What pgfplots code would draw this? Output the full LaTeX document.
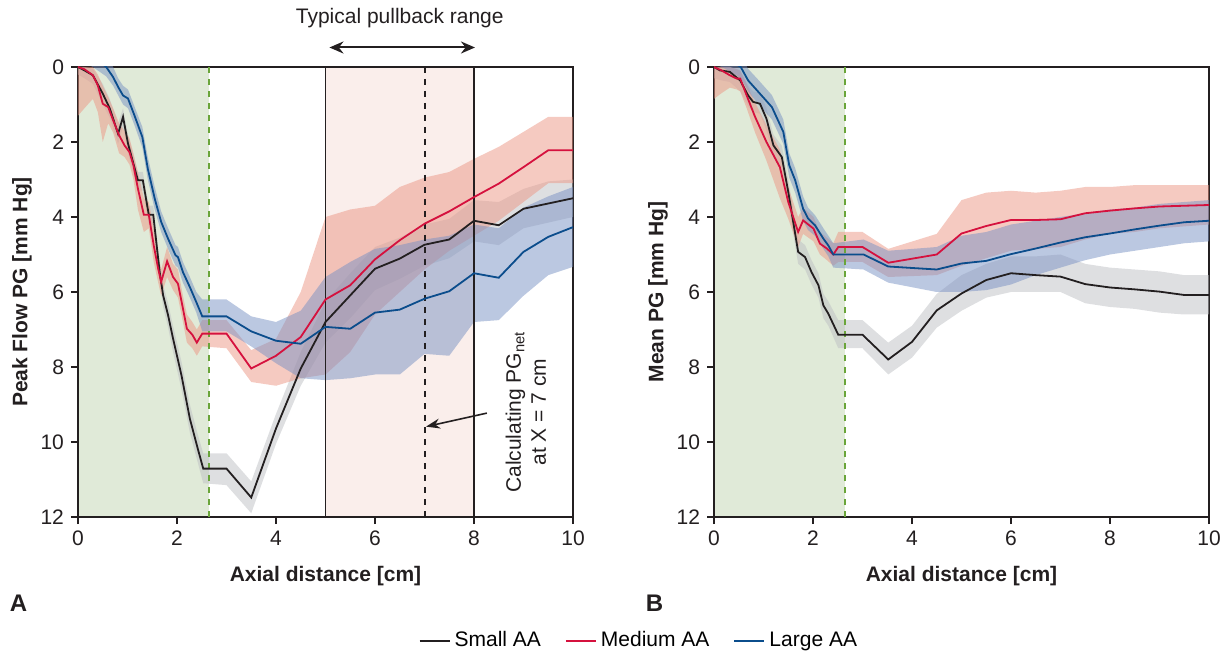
\documentclass[border=0pt]{standalone}
\usepackage{pgfplots}
\usepackage{pgfplotstable}
\usepackage{fontspec}
\setmainfont{Liberation Sans}
\pgfplotsset{compat=1.18}
\usepgfplotslibrary{fillbetween}
\usetikzlibrary{arrows.meta}

\definecolor{smallc}{RGB}{35,31,32}
\definecolor{medc}{RGB}{213,17,62}
\definecolor{largec}{RGB}{11,77,140}
\definecolor{bandgrey}{RGB}{190,192,196}
\definecolor{bandred}{RGB}{236,150,132}
\definecolor{bandblue}{RGB}{120,145,195}
\definecolor{greenreg}{RGB}{224,234,216}
\definecolor{greendash}{RGB}{106,165,58}
\definecolor{pinkreg}{RGB}{250,238,235}

% x  y  lo  hi  (lo/hi = edges of the shaded band)
\pgfplotstableread{
x y lo hi
0 0 0 0.2
0.13 0.09 0 0.3
0.3 0.22 0.05 0.45
0.5 0.71 0.45 1.0
0.64 1.1 0.85 1.35
0.81 1.78 1.5 2.05
0.91 1.33 1.1 1.6
1.01 2.04 1.8 2.3
1.11 2.53 2.3 2.8
1.21 3.02 2.8 3.3
1.31 3.02 2.8 3.3
1.43 3.94 3.7 4.2
1.52 3.94 3.7 4.2
1.65 5.47 5.2 5.75
1.72 6.09 5.8 6.4
1.82 6.62 6.3 6.95
1.92 7.24 6.9 7.6
2.09 8.22 7.85 8.6
2.26 9.38 9.0 9.75
2.42 10.18 9.8 10.55
2.53 10.71 10.3 11.1
3.0 10.71 10.3 11.15
3.5 11.48 11.05 11.9
4.0 9.64 9.25 10.05
4.5 8.04 7.6 8.5
5.0 6.8 6.25 7.35
5.5 6.09 5.5 6.7
6.0 5.38 4.8 5.95
6.5 5.11 4.55 5.65
7.0 4.74 4.2 5.3
7.5 4.6 4.05 5.1
8.0 4.1 3.55 4.65
8.5 4.22 3.6 4.75
9.0 3.78 3.25 4.3
9.5 3.64 3.05 4.15
10.0 3.5 3.0 4.0
}\lsmall

\pgfplotstableread{
x y lo hi
0 0 0 1.3
0.13 0.06 0 1.1
0.3 0.22 0 0.85
0.4 0.49 0.2 1.2
0.5 0.98 0.5 2.0
0.61 1.07 0.8 1.5
0.71 1.42 1.1 1.75
0.83 1.82 1.5 2.3
0.94 2.09 1.7 2.4
1.04 2.27 1.9 2.6
1.12 2.62 2.3 3.0
1.21 3.24 2.8 3.8
1.33 3.94 3.5 4.4
1.43 3.94 3.6 4.3
1.53 4.76 4.3 5.2
1.62 5.38 5.0 5.75
1.68 5.73 5.4 6.1
1.8 5.18 4.8 5.6
1.92 5.6 5.25 5.95
2.02 5.78 5.4 6.15
2.12 6.44 6.1 6.8
2.2 6.98 6.6 7.35
2.31 7.14 6.8 7.5
2.4 7.35 7.0 7.7
2.51 7.11 6.75 7.45
3.0 7.11 6.75 7.5
3.5 8.04 7.55 8.4
4.0 7.7 7.25 8.5
4.5 7.2 6.0 8.3
5.0 6.2 4.0 8.2
5.5 5.82 3.8 7.6
6.0 5.13 3.7 6.6
6.5 4.62 3.2 6.0
7.0 4.18 2.95 5.4
7.5 3.85 2.8 4.9
8.0 3.47 2.45 4.5
8.5 3.11 2.13 4.1
9.0 2.67 1.73 3.6
9.5 2.22 1.33 3.1
10.0 2.22 1.33 3.1
}\lmed

\pgfplotstableread{
x y lo hi
0 -0.5 -0.8 -0.2
0.3 -0.3 -0.6 0.0
0.57 0 -0.25 0.25
0.71 0.27 0 0.5
0.81 0.53 0.3 0.75
0.91 0.76 0.5 1.0
1.01 0.84 0.6 1.1
1.14 1.29 1.05 1.55
1.3 1.87 1.6 2.15
1.41 2.71 2.4 3.0
1.55 3.51 3.2 3.8
1.68 4.13 3.85 4.4
1.82 4.58 4.3 4.85
1.97 5.02 4.75 5.3
2.02 5.07 4.8 5.35
2.12 5.47 5.2 5.75
2.26 5.87 5.6 6.15
2.39 6.27 6.0 6.55
2.51 6.65 6.2 7.05
3.0 6.65 6.2 7.05
3.5 7.05 6.65 7.45
4.0 7.3 6.8 7.9
4.5 7.38 6.5 8.3
5.0 6.93 5.6 8.35
5.5 6.98 5.2 8.3
6.0 6.55 4.85 8.2
6.5 6.47 4.75 8.2
7.0 6.18 4.6 7.65
7.5 5.98 4.5 7.7
8.0 5.5 4.2 6.8
8.5 5.62 4.3 6.75
9.0 4.93 3.75 6.1
9.5 4.53 3.45 5.55
10.0 4.27 3.2 5.33
}\llarge

\pgfplotstableread{
x y lo hi
0 0 0 0.3
0.12 0.09 0 0.35
0.32 0.13 0 0.4
0.53 0.36 0.1 0.65
0.69 0.76 0.5 1.05
0.79 0.93 0.65 1.2
0.93 0.98 0.7 1.25
1.06 1.38 1.1 1.7
1.2 2.09 1.8 2.4
1.37 2.4 2.1 2.7
1.5 3.33 3.0 3.65
1.6 4.13 3.8 4.45
1.7 4.93 4.6 5.25
1.84 5.07 4.75 5.4
1.97 5.47 5.15 5.8
2.11 5.82 5.5 6.15
2.21 6.36 6.05 6.7
2.31 6.58 6.25 6.9
2.51 7.14 6.75 7.5
3.0 7.14 6.75 7.5
3.52 7.8 7.35 8.2
4.0 7.33 6.9 7.75
4.5 6.49 6.05 6.95
5.0 6.04 5.55 6.5
5.5 5.68 5.25 6.15
6.0 5.5 5.05 6.0
6.5 5.55 5.05 6.0
7.0 5.59 5.0 6.0
7.5 5.79 5.25 6.3
8.0 5.88 5.35 6.4
8.5 5.93 5.4 6.45
9.0 5.99 5.45 6.55
9.5 6.08 5.55 6.6
10.0 6.08 5.55 6.6
}\rsmall

\pgfplotstableread{
x y lo hi
0 0 0 0.85
0.15 0.09 0 0.7
0.32 0.22 0 0.55
0.46 0.31 0.05 0.6
0.53 0.31 0.1 0.65
0.66 0.76 0.45 1.1
0.83 1.33 0.95 1.75
1.06 2.0 1.55 2.5
1.33 2.67 2.2 3.5
1.5 3.6 3.2 4.05
1.7 4.4 4.0 4.8
1.8 4.09 3.75 4.45
2.01 4.31 4.0 4.65
2.14 4.71 4.4 5.0
2.28 4.84 4.55 5.15
2.41 5.0 4.7 5.3
2.51 4.8 4.4 5.2
3.0 4.8 4.4 5.2
3.52 5.22 4.85 5.6
4.5 5.0 4.45 5.55
5.0 4.44 3.55 5.3
5.5 4.24 3.35 5.1
6.0 4.08 3.3 4.9
6.5 4.08 3.35 4.85
7.0 4.06 3.3 4.8
7.5 3.9 3.2 4.6
8.0 3.83 3.2 4.45
8.5 3.77 3.15 4.4
9.0 3.72 3.15 4.3
9.5 3.7 3.15 4.25
10.0 3.68 3.15 4.2
}\rmed

\pgfplotstableread{
x y lo hi
0 -0.4 -0.7 -0.1
0.3 -0.2 -0.5 0.1
0.54 0 -0.3 0.3
0.69 0.36 0.05 0.65
0.9 0.67 0.35 1.0
1.17 1.07 0.75 1.4
1.4 1.73 1.4 2.05
1.52 2.62 2.3 2.95
1.64 3.02 2.7 3.35
1.8 3.78 3.45 4.1
1.9 4.04 3.75 4.35
2.04 4.22 3.95 4.5
2.21 4.58 4.3 4.85
2.31 4.76 4.5 5.05
2.41 5.0 4.7 5.35
3.02 5.0 4.6 5.4
3.52 5.32 4.9 5.75
4.5 5.4 4.8 6.0
5.0 5.24 4.5 6.0
5.5 5.17 4.4 5.95
6.0 4.99 4.2 5.8
6.5 4.84 4.1 5.55
7.0 4.68 4.0 5.35
7.5 4.54 3.9 5.15
8.0 4.44 3.8 5.0
8.5 4.33 3.75 4.9
9.0 4.23 3.65 4.8
9.5 4.14 3.6 4.7
10.0 4.1 3.55 4.65
}\rlarge

\pgfplotsset{
  pgaxis/.style={
    set layers,
    scale only axis,
    width=247.5pt, height=225pt,
    xmin=0, xmax=10, ymin=0, ymax=12,
    y dir=reverse,
    xtick={0,2,...,10}, ytick={0,2,...,12},
    tick align=outside, tick pos=left,
    major tick length=3.5pt,
    axis line style={line width=1.1pt, color=smallc},
    every tick/.style={line width=1.1pt, color=smallc},
    tick label style={font=\fontsize{10.5}{12}\selectfont, color=smallc},
    /pgf/number format/assume math mode=true,
    label style={font=\bfseries\fontsize{10.5}{12}\selectfont, color=smallc},
    xlabel={Axial distance [cm]},
    xlabel style={yshift=-3.5pt},
    ylabel style={yshift=-2.5pt},
    clip mode=individual,
  },
  band/.style={draw=none, forget plot},
  region/.style={draw=none, forget plot, on layer=axis background},
}

\newcommand{\bands}[3]{%
  \addplot[band, name path=#2L] table[x=x, y=lo]{#1};
  \addplot[band, name path=#2H] table[x=x, y=hi]{#1};
  \addplot[fill=#3, fill opacity=0.5, draw=none, forget plot] fill between[of=#2L and #2H];
}

\begin{document}
\begin{tikzpicture}

% ---------------- A ----------------
\begin{axis}[pgaxis, at={(0,0)}, anchor=south west,
  ylabel={Peak Flow PG [mm Hg]},
  legend style={at={(1.135,-0.275)}, anchor=center, draw=none, fill=none,
    legend columns=3, font=\fontsize{10.5}{12}\selectfont,
    /tikz/every even column/.append style={column sep=10pt}},
  legend image code/.code={\draw[#1, line width=1pt] (0pt,0pt) -- (15pt,0pt);},
]
\addplot[region, fill=greenreg] coordinates {(0,0) (2.65,0) (2.65,12) (0,12)} -- cycle;
\addplot[region, fill=pinkreg] coordinates {(5,0) (8,0) (8,12) (5,12)} -- cycle;

\bands{\lsmall}{ls}{bandgrey}
\bands{\lmed}{lm}{bandred}
\bands{\llarge}{ll}{bandblue}

\addplot[greendash, dashed, line width=1pt, forget plot] coordinates {(2.65,0) (2.65,12)};
\addplot[smallc, line width=0.8pt, forget plot] coordinates {(5,0) (5,12)};
\addplot[smallc, line width=0.8pt, forget plot] coordinates {(8,0) (8,12)};
\addplot[smallc, dashed, line width=1pt, forget plot] coordinates {(7,0) (7,12)};

\addplot[smallc, line width=0.9pt] table[x=x, y=y]{\lsmall};
\addplot[medc, line width=0.9pt] table[x=x, y=y]{\lmed};
\addplot[largec, line width=0.9pt] table[x=x, y=y]{\llarge};
\legend{Small AA, Medium AA, Large AA}

\node[font=\fontsize{10.5}{12}\selectfont, color=smallc] at (axis cs:6.5,-1.3) {Typical pullback range};
\draw[{Stealth[length=7pt,width=6pt]}-{Stealth[length=7pt,width=6pt]}, line width=1pt, smallc]
  (axis cs:5.08,-0.52) -- (axis cs:8.02,-0.52);
\node[rotate=90, align=center, font=\fontsize{10.5}{12.5}\selectfont, color=smallc]
  at (axis cs:9.05,9.2) {Calculating PG\textsubscript{net}\\at X = 7 cm};
\draw[-{Stealth[length=7pt,width=5pt]}, line width=0.8pt, smallc]
  (axis cs:8.26,9.23) -- (axis cs:7.03,9.59);
\node[font=\bfseries\fontsize{12}{14}\selectfont, color=smallc] at (axis cs:-1.2,14.3) {A};
\end{axis}

% ---------------- B ----------------
\begin{axis}[pgaxis, at={(318pt,0)}, anchor=south west,
  ylabel={Mean PG [mm Hg]},
]
\addplot[region, fill=greenreg] coordinates {(0,0) (2.65,0) (2.65,12) (0,12)} -- cycle;

\bands{\rsmall}{rs}{bandgrey}
\bands{\rmed}{rm}{bandred}
\bands{\rlarge}{rl}{bandblue}

\addplot[greendash, dashed, line width=1pt, forget plot] coordinates {(2.65,0) (2.65,12)};

\addplot[smallc, line width=0.9pt] table[x=x, y=y]{\rsmall};
\addplot[medc, line width=0.9pt] table[x=x, y=y]{\rmed};
\addplot[largec, line width=0.9pt] table[x=x, y=y]{\rlarge};
\node[font=\bfseries\fontsize{12}{14}\selectfont, color=smallc] at (axis cs:-1.2,14.3) {B};
\end{axis}

\path (-39pt,-68pt) rectangle (576.5pt,258.5pt);
\end{tikzpicture}
\end{document}
